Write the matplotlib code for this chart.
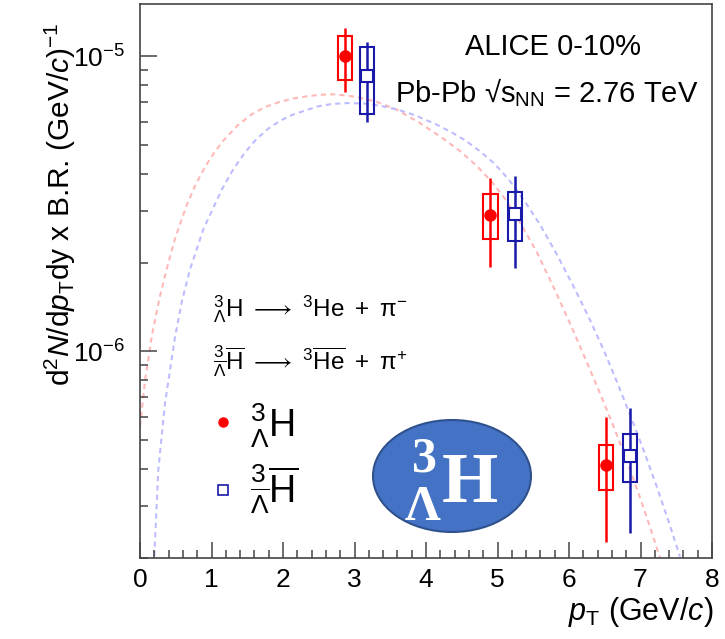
import numpy as np
import matplotlib.pyplot as plt
import matplotlib as mpl
from matplotlib.patches import Rectangle, Ellipse
from matplotlib.ticker import MultipleLocator, LogLocator, NullFormatter

mpl.rc('font', family='Liberation Sans')
mpl.rc('mathtext', fontset='custom', rm='Liberation Sans',
       it='Liberation Sans:italic', bf='Liberation Sans:bold')

# hypertriton spectrum, Pb-Pb 0-10%
pt_h = [2.87, 4.90, 6.52]
y_h = [1.00e-5, 2.90e-6, 4.12e-7]
stat_h = [2.45e-6, 0.97e-6, 1.86e-7]
sys_h = [1.70e-6, 0.50e-6, 0.72e-7]

# anti-hypertriton spectrum (shifted in pT for visibility)
pt_hbar = [3.17, 5.24, 6.85]
y_hbar = [8.56e-6, 2.92e-6, 4.43e-7]
stat_hbar = [2.60e-6, 1.00e-6, 2.00e-7]
sys_hbar = [2.20e-6, 0.55e-6, 0.81e-7]

# model curves
fit_pt_h = [0.0, 0.07, 0.164, 0.27, 0.373, 0.49, 0.653, 0.78, 0.909, 1.04,
            1.165, 1.36, 1.562, 1.75, 1.934, 2.14, 2.354, 2.54, 2.73, 3.0,
            3.31, 3.6, 3.92, 4.2, 4.48, 4.7, 4.9, 5.1, 5.32, 5.55, 5.8,
            6.03, 6.25, 6.44, 6.62, 6.8, 6.99, 7.14, 7.27]
fit_y_h = [5.58e-7, 7.95e-7, 1.124e-6, 1.507e-6, 1.90e-6, 2.41e-6, 3.13e-6,
           3.68e-6, 4.21e-6, 4.72e-6, 5.17e-6, 5.81e-6, 6.35e-6, 6.72e-6,
           6.97e-6, 7.18e-6, 7.32e-6, 7.40e-6, 7.42e-6, 7.29e-6, 7.00e-6,
           6.57e-6, 5.92e-6, 5.34e-6, 4.76e-6, 4.27e-6, 3.80e-6, 3.30e-6,
           2.72e-6, 2.17e-6, 1.62e-6, 1.22e-6, 9.19e-7, 7.16e-7, 5.60e-7,
           4.32e-7, 3.22e-7, 2.52e-7, 2.01e-7]
fit_pt_hbar = [0.20, 0.256, 0.35, 0.49, 0.59, 0.699, 0.885, 1.143, 1.30,
               1.469, 1.63, 1.794, 1.96, 2.122, 2.30, 2.494, 2.70, 2.913,
               3.15, 3.357, 3.6, 3.85, 4.15, 4.35, 4.55, 4.755, 4.95, 5.1,
               5.221, 5.4, 5.594, 5.83, 6.06, 6.27, 6.48, 6.67, 6.853, 7.04,
               7.227, 7.40, 7.552]
fit_y_hbar = [2.03e-7, 3.98e-7, 6.69e-7, 1.12e-6, 1.493e-6, 1.895e-6,
              2.59e-6, 3.53e-6, 4.12e-6, 4.72e-6, 5.24e-6, 5.68e-6, 6.04e-6,
              6.31e-6, 6.53e-6, 6.76e-6, 6.89e-6, 6.93e-6, 6.90e-6, 6.79e-6,
              6.59e-6, 6.30e-6, 5.86e-6, 5.53e-6, 5.18e-6, 4.76e-6, 4.34e-6,
              3.96e-6, 3.65e-6, 3.17e-6, 2.69e-6, 2.13e-6, 1.667e-6,
              1.315e-6, 1.018e-6, 7.90e-7, 6.11e-7, 4.66e-7, 3.49e-7,
              2.63e-7, 2.02e-7]

red = '#ff0000'
blue = '#1a1aa8'
frame = '#444444'

fig = plt.figure(figsize=(7.25, 6.39), dpi=100)
ax = fig.add_axes([140/725, 1 - 558/639, 572/725, 554/639])

ax.set_yscale('log')
ax.set_xlim(0, 8)
ax.set_ylim(2e-7, 1.5e-5)

ax.plot(fit_pt_h, fit_y_h, color='#ffb8b8', lw=1.5, dashes=(2.5, 2), zorder=1)
ax.plot(fit_pt_hbar, fit_y_hbar, color='#bcbcff', lw=1.5, dashes=(2.5, 2), zorder=1)

# systematic boxes
for x, y, s in zip(pt_h, y_h, sys_h):
    ax.add_patch(Rectangle((x - 0.1, y - s), 0.2, 2*s, fill=False,
                           ec=red, lw=1.5, zorder=2))
for x, y, s in zip(pt_hbar, y_hbar, sys_hbar):
    ax.add_patch(Rectangle((x - 0.1, y - s), 0.2, 2*s, fill=False,
                           ec=blue, lw=1.5, zorder=2))

ax.errorbar(pt_h, y_h, yerr=stat_h, fmt='o', color=red, ms=8,
            elinewidth=1.8, capsize=0, zorder=3)
ax.errorbar(pt_hbar, y_hbar, yerr=stat_hbar, fmt='s', color=blue, mfc='white',
            mec=blue, mew=1.5, ms=8, elinewidth=1.8, capsize=0, zorder=3)

# axes cosmetics
ax.xaxis.set_major_locator(MultipleLocator(1))
ax.xaxis.set_minor_locator(MultipleLocator(0.2))
ax.yaxis.set_minor_locator(LogLocator(base=10, subs=np.arange(2, 10)))
ax.yaxis.set_minor_formatter(NullFormatter())
for sp in ax.spines.values():
    sp.set_color(frame)
    sp.set_linewidth(1.2)
ax.tick_params(which='both', direction='in', color=frame, width=1.1,
               labelsize=19, top=False, right=False)
ax.tick_params(axis='x', which='major', length=11.5, pad=7)
ax.tick_params(axis='x', which='minor', length=6)
ax.tick_params(axis='y', which='major', length=12, pad=11)
ax.tick_params(axis='y', which='minor', length=6)

fig.text(60/725, 1 - 22/639,
         r'd$^{\mathregular{2}}$$N$/d$p_{\mathregular{T}}$dy x B.R. (GeV/$c$)$^{\mathregular{-1}}$',
         rotation=90, ha='center', va='top', fontsize=21.5)
fig.text(713/725, 1 - 620/639, r'$p_{\mathregular{T}}$ (GeV/$c$)',
         ha='right', va='baseline', fontsize=22)

fig.text(553/725, 1 - 55/639, 'ALICE 0-10%', ha='center', va='baseline',
         fontsize=21)
fig.text(395/725, 1 - 102/639,
         'Pb-Pb \u221a$\\mathregular{s_{NN}}$ = 2.76 TeV',
         ha='left', va='baseline', fontsize=21)

fig.text(213/725, 1 - 316/639,
         r'${}^{3}_{\Lambda}\mathrm{H}\ \longrightarrow\ {}^{3}\mathrm{He}\ +\ \mathrm{\pi}^{-}$',
         ha='left', va='baseline', fontsize=17.5)
fig.text(213/725, 1 - 370/639,
         r'${}^{3}_{\overline{\Lambda}}\overline{\mathrm{H}}\ \longrightarrow\ {}^{3}\overline{\mathrm{He}}\ +\ \mathrm{\pi}^{+}$',
         ha='left', va='baseline', fontsize=17.5)

# key for the two species
ax.plot([223/725], [1 - 422/639], 'o', color=red, ms=6.5,
        transform=fig.transFigure, clip_on=False)
ax.plot([223/725], [1 - 490/639], 's', mfc='none', mec=blue, mew=1.2, ms=6.5,
        transform=fig.transFigure, clip_on=False)
fig.text(250/725, 1 - 437/639, r'${}^{3}_{\Lambda}\mathrm{H}$',
         ha='left', va='baseline', fontsize=27)
fig.text(250/725, 1 - 503/639, r'${}^{3}_{\overline{\Lambda}}\overline{\mathrm{H}}$',
         ha='left', va='baseline', fontsize=27)

# logo
ax.add_patch(Ellipse(((452 - 140)/572, (558 - 476)/554), 158/572, 112/554,
                     transform=ax.transAxes, fc='#4472c4', ec='#2f528f',
                     lw=1.5, zorder=4))
logo = dict(family='Liberation Serif', weight='bold', color='white',
            ha='center', va='baseline', zorder=5)
fig.text(425/725, 1 - 472/639, '3', fontsize=36, **logo)
fig.text(423/725, 1 - 520/639, '\u039b', fontsize=36, **logo)
fig.text(470/725, 1 - 502/639, 'H', fontsize=52, **logo)

plt.savefig('out.png', dpi=100)
